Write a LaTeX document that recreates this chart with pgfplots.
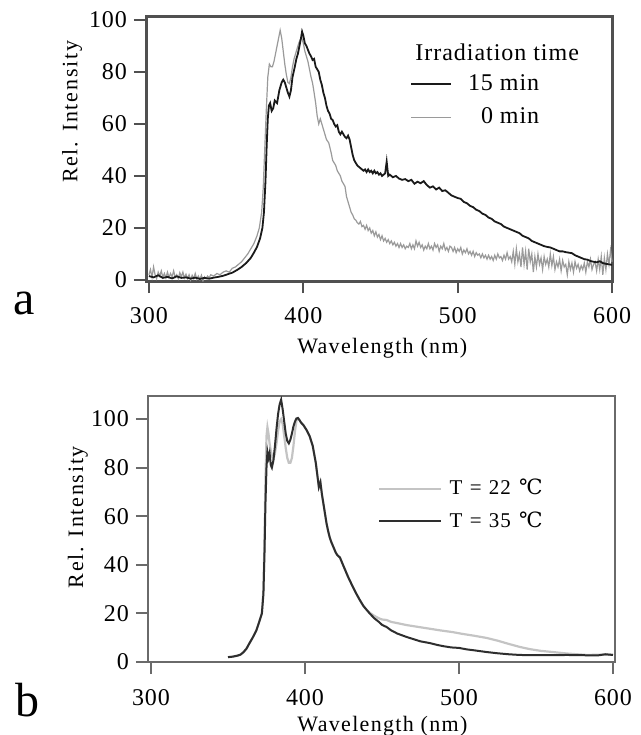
\documentclass[border=0pt]{standalone}
\usepackage{fontspec}
\setmainfont{Liberation Serif}[LetterSpace=4]
\newfontfamily\xlabfont{Liberation Serif}[LetterSpace=6]
\newfontfamily\ylabfont{Liberation Serif}[LetterSpace=8]
\newfontfamily\symfont{DejaVu Serif}
\usepackage{pgfplots}
\pgfplotsset{compat=1.18}

\definecolor{frameA}{HTML}{505050}
\definecolor{frameB}{HTML}{6A6A6A}
\definecolor{darkline}{HTML}{1A1A1A}
\definecolor{midgray}{HTML}{9A9A9A}
\definecolor{lightgray}{HTML}{C4C4C4}
\definecolor{blackB}{HTML}{2E2E2E}

\pgfplotsset{
  spectrum/.style={
    scale only axis,
    width=233.5pt,
    xtick={300,400,500,600},
    ytick={0,20,40,60,80,100},
    tick align=outside,
    tick pos=left,
    major tick length=6pt,
    ticklabel style={font=\fontsize{12}{14}\selectfont},
    /pgf/number format/assume math mode=true,
    xlabel={Wavelength (nm)},
    ylabel={Rel. Intensity},
    xlabel style={font=\fontsize{11}{13}\xlabfont, anchor=center},
    ylabel style={font=\fontsize{11}{13}\ylabfont, anchor=center},
    legend style={draw=none, fill=none, inner sep=0pt},
  },
}

\begin{document}
\begin{tikzpicture}
\useasboundingbox (0,0) rectangle (320.5pt,-367.5pt);

% ---- panel a ----
\begin{axis}[spectrum,
    at={(73pt,-140.5pt)}, anchor=south west,
    height=132.5pt,
    xmin=298.1, xmax=600.6,
    ymin=-0.4, ymax=101.5,
    axis line style={line width=1.5pt, draw=frameA},
    tick style={line width=1pt, draw=frameA},
    xticklabel style={yshift=-3.5pt},
    xlabel style={at={(axis description cs:0.506,-0.252)}},
    ylabel style={at={(axis description cs:-0.158,0.638)}},
    reverse legend,
    legend cell align=right,
    legend style={at={(axis description cs:0.565,0.795)}, anchor=north west,
      font=\fontsize{12}{14}\selectfont, row sep=3pt,
      /tikz/every odd column/.append style={column sep=6pt}},
    legend image code/.code={\draw[#1] (0pt,0pt) -- (20pt,0pt);},
  ]
  % 0 min
  \addplot[color=midgray, line width=0.6pt] coordinates {
    (300,2) (301,4) (302,1) (303,5) (304,2) (305,0.5) (306,3) (307,1.5) (308,3.5) (309,1)
    (310,2.5) (311,0.8) (312,3) (313,1) (314,2.5) (315,1.2) (316,3.5) (317,1) (318,2) (319,0.5)
    (320,2.8) (321,1.2) (322,3) (323,0.8) (324,2.2) (325,0.5) (326,2) (327,0) (328,1.8) (329,0.5)
    (330,2.5) (331,0.3) (332,1.5) (333,0.2) (334,1.8) (335,-0.3) (336,1.2) (337,0.5) (338,1.5) (339,0.8)
    (340,2) (342,1.5) (344,2.5) (346,2) (348,3) (350,3.5) (352,3) (354,4.5) (356,5) (358,6)
    (360,7) (362,8.5) (364,10) (366,12) (368,14) (370,17) (371.5,20) (373,26) (374,35) (375,50)
    (376,65) (377,78) (378,83) (379,82) (380,82) (381,84) (382,87) (383,90) (384,93) (385,96)
    (386,93) (387,88) (388,83) (389,79) (390,76) (391,75.5) (392,78) (393,82) (394,85) (395,87)
    (396,89) (397,91) (398,92.5) (399,93) (400,91) (401,88) (402,86) (403,84) (404,81) (405,78)
    (406,75.7) (407,72) (408,68) (409,63) (410,60) (411,62) (412,60) (413,58) (414,56) (415,54)
    (416.5,52.7) (418,49) (419,46) (420,45) (421,44) (422,42) (423,41) (424,40) (425,38) (426,37)
    (427,36) (428,32) (429,30) (430,28) (431,26) (432,25) (433,23.5) (434,23) (435,22) (436,21.5)
    (437,22.5) (438,20.5) (439,21) (440,19.5) (441,21) (442,19) (443,20) (444,18) (445,19) (446,17)
    (447,18.5) (448,16.5) (449,17.5) (450,15.5) (451,17) (452,15) (453,16) (454,14.5) (455,15.5) (456,14)
    (457,15) (458,13.5) (459,14.5) (460,13) (461,14) (462,12.5) (463,14) (464,12.5) (465,13.5) (466,12)
    (467,13) (468,12.5) (469,14) (470,12) (471,13.5) (472,12) (473,15) (474,13) (475,14.5) (476,12.5)
    (477,13.5) (478,11.5) (479,13) (480,12) (481,14) (482,12) (483,13) (484,11.5) (485,14) (486,12.5)
    (487,13.5) (488,11) (489,13) (490,12) (491,14) (492,11.5) (493,12.5) (494,11) (495,13) (496,12.5)
    (497,11) (498,12.5) (499,10.5) (500,12) (501,11) (502,12.5) (503,10) (504,11.5) (505,10.5) (506,12)
    (507,10) (508,11) (509,9.5) (510,11) (511,9) (512,10.5) (513,9.5) (514,10) (515,8.5) (516,10)
    (517,8.5) (518,9.5) (519,8) (520,9.5) (521,8) (522,9) (523,7.5) (524,9.5) (525,8) (526,10)
    (527,8.5) (528,9) (529,7.5) (530,9.5) (531,8) (532,10.5) (533,8) (534,9) (535,7) (536,11)
    (537,6) (538,12) (539,7) (540,10) (541,5) (542,12.5) (543,6) (544,11) (545,4) (546,12)
    (547,7) (548,10) (549,3) (550,9) (551,5) (552,10) (553,6) (554,8.5) (555,4) (556,9)
    (557,6) (558,8) (559,5) (560,10) (561,5.5) (562,9) (563,4) (564,7) (565,5) (566,8)
    (567,3.5) (568,7.5) (569,5) (570,6) (571,2) (572,7) (573,4) (574,6.5) (575,3) (576,7)
    (577,4.5) (578,6) (579,3.5) (580,5.5) (581,4) (582,6.5) (583,3) (584,7) (585,5) (586,8)
    (587,4) (588,6) (589,7) (590,3.5) (591,8) (592,4) (593,9) (594,2) (595,8.5) (596,4)
    (597,10) (598,6) (599,11.5) (600,7)
  };
  % 15 min
  \addplot[color=darkline, line width=0.9pt] coordinates {
    (300,1.5) (303,1.0) (306,1.8) (309,0.8) (312,1.2) (315,0.6) (318,1.4) (321,0.8) (324,1.0) (327,0.5)
    (330,0.9) (333,0.4) (336,0.8) (339,0.5) (342,0.9) (345,1.2) (348,1.6) (351,2.2) (354,2.8) (357,3.8)
    (360,5.0) (363,6.5) (366,8.5) (368,10.5) (370,12.7) (372,16) (373.5,20) (374.5,26) (375.5,38) (376.3,52)
    (377,62) (377.7,67) (378.5,68) (379.5,65) (380.5,66) (381.5,69) (383,68) (384.5,73) (386,76) (387,77)
    (388,76) (389,74) (390,72) (391,70.5) (392,73) (393,78) (394.5,82) (395.5,85) (396.5,87) (397.5,90)
    (398.5,93) (399.2,95.5) (400,94) (401,91) (402,90) (403,88.5) (404,87) (405,86) (406,84.6) (407,85)
    (408,82) (409,81) (410,80) (411,77) (412,75) (413,72) (414,70) (415,67) (416,65) (417,64)
    (418,62) (419,61.5) (420,60) (421,59) (422,59.5) (423,57) (424,56) (425,57) (426,56) (427,55)
    (428,54.5) (429,55.5) (430,54) (431,51) (432,48) (433,46) (434,45) (435,44) (436,43.5) (437,43)
    (438,42.5) (439,42) (440,42.5) (441,41.5) (442,42.5) (443,41.5) (444,42) (445,41) (446,42) (447,41)
    (448,41.5) (449,40.5) (450,41) (451,40) (452,40.5) (453,41) (454,45.5) (455,40) (456,40.5) (458,39.5)
    (460,40) (462,39) (464,38.5) (466,38.8) (468,38) (470,38.5) (472,37) (474,37.8) (476,37.2) (478,38)
    (480,36.5) (482,35.5) (484,36) (486,34.8) (488,35.5) (490,34.2) (492,34.5) (494,33.5) (496,32.5) (498,32)
    (500,31.5) (502,31.2) (504,30) (506,29.5) (508,28.5) (510,28) (512,27) (514,26.5) (516,25.5) (518,25)
    (520,24) (522,23.5) (524,22.5) (526,22) (528,21.5) (530,20.5) (532,20) (534,19.5) (536,19) (538,18.5)
    (540,18) (542,17) (544,16.5) (546,16) (548,15) (550,14.5) (552,14) (554,13.5) (556,13) (558,12.7)
    (560,12.5) (562,12) (564,11.5) (566,11) (568,11) (570,10.7) (572,10.5) (574,10.3) (576,9.5) (578,9)
    (580,8.5) (582,8) (584,7.8) (586,7.3) (588,7) (590,6.8) (592,7.2) (594,6.5) (596,6.2) (598,6) (600,5.8)
  };
  \legend{0 min, 15 min}
  \node[font=\fontsize{12}{14}\selectfont] at (rel axis cs:0.752,0.864) {Irradiation time};
\end{axis}

% ---- panel b ----
\begin{axis}[spectrum,
    at={(74pt,-331pt)}, anchor=south west,
    height=133pt,
    xmin=298.05, xmax=601.3,
    ymin=0, ymax=109.5,
    axis line style={line width=1.3pt, draw=frameB},
    tick style={line width=1pt, draw=frameB},
    xticklabel style={yshift=-4pt},
    xlabel style={at={(axis description cs:0.502,-0.24)}},
    ylabel style={at={(axis description cs:-0.15,0.545)}},
    legend cell align=left,
    legend style={at={(axis description cs:0.4925,0.703)}, anchor=north west,
      font=\fontsize{10.5}{12.5}\selectfont, row sep=3pt,
      /tikz/every odd column/.append style={column sep=1.5pt}},
    legend image code/.code={\draw[#1] (0pt,0pt) -- (31pt,0pt);},
  ]
  % T = 22 C
  \addplot[color=lightgray, line width=1.1pt] coordinates {
    (350,2) (353,2.2) (356,2.6) (358,3) (360,4) (362,5.5) (364,7.8) (366,10) (368.4,13) (370,16)
    (372,20) (373,30) (373.7,50) (374.3,75) (375,93) (375.6,96.7) (376.3,94) (377,90) (377.8,87) (378.5,85)
    (379.5,83.5) (380.5,86) (381.5,90) (382.5,95) (383.5,99) (384.5,100) (385.5,98) (386.5,93) (387.5,88) (388.5,84)
    (389.5,82) (390.5,82) (391.5,84) (392.5,89) (393.5,95) (394.5,99.5) (395.5,100.4) (396.5,99.5) (397.5,98.5) (399,97.5)
    (401,95.5) (403,93) (405,89) (407,82) (409,72) (410,74) (411,69) (412,65) (413,61) (414,57)
    (415,54) (416,51.4) (417,49.5) (418,48) (419,46.5) (420,45) (421,44) (422.7,43) (424,41) (426,38)
    (428,35) (429,33.7) (431,31) (433,28.5) (435.6,25.5) (438,23) (440,21.5) (442,20.3) (445,19) (448,18)
    (450,17.5) (453,17.3) (456,16.5) (460,16) (466,15.2) (474,14.4) (480,13.8) (488,13) (496,12.3) (502,11.6)
    (510,10.8) (518,9.9) (525,8.8) (532,7.5) (539.5,6.2) (546,5.3) (553,4.6) (561,4.1) (570,3.5) (583,2.9)
    (590,3) (600,3)
  };
  % T = 35 C
  \addplot[color=blackB, line width=1pt] coordinates {
    (350,2) (353,2.2) (356,2.6) (358,3) (360,4) (362,5.5) (364,7.8) (366,10) (368.4,13) (370,16)
    (372,20) (373,28) (373.7,45) (374.3,65) (375,80) (375.6,86.5) (376.3,84) (377,86) (377.8,81) (378.5,80)
    (379.5,83) (380.5,89) (381.5,96) (382.5,102) (383.5,106) (384.5,108) (385.5,104) (386.5,99) (387.5,94) (388.5,91)
    (389.5,90) (390.5,91.5) (391.5,94) (392.5,97) (393.5,99) (394.5,100.3) (395.5,100.4) (396.5,99.5) (397.5,98.5) (399,97.5)
    (401,95.5) (403,93) (405,89) (407,82) (409,72) (410,74) (411,69) (412,65) (413,61) (414,57)
    (415,54) (416,51.4) (417,49.5) (418,48) (419,46.5) (420,45) (421,44) (422.7,43) (424,41) (426,38)
    (428,35) (429,33.7) (431,31) (433,28.5) (435.6,25.5) (438,23) (440,21.5) (442,20) (445,18) (448,16.5)
    (450,15.3) (453,14.4) (456,13) (460,11.7) (463,11) (466,10.3) (470,9.5) (475,8.5) (481,7.8) (486,7)
    (490,6.5) (495,6) (500,5.8) (505,5.2) (510,4.8) (518,4.1) (525,3.6) (532,3.2) (539.5,2.9) (550,2.8)
    (560,2.8) (570,2.9) (580,2.8) (590,2.7) (595,3.2) (600,2.9)
  };
  \legend{T\hspace{0.35em}=\hspace{0.35em}22\hspace{0.4em}{\symfont ℃}, T\hspace{0.35em}=\hspace{0.35em}35\hspace{0.4em}{\symfont ℃}}
\end{axis}

\node[anchor=base west, font=\fontsize{24}{28}\selectfont, inner sep=0pt] at (6.5pt,-157pt) {a};
\node[anchor=base west, font=\fontsize{24}{28}\selectfont, inner sep=0pt] at (7.5pt,-358pt) {b};
\end{tikzpicture}
\end{document}
